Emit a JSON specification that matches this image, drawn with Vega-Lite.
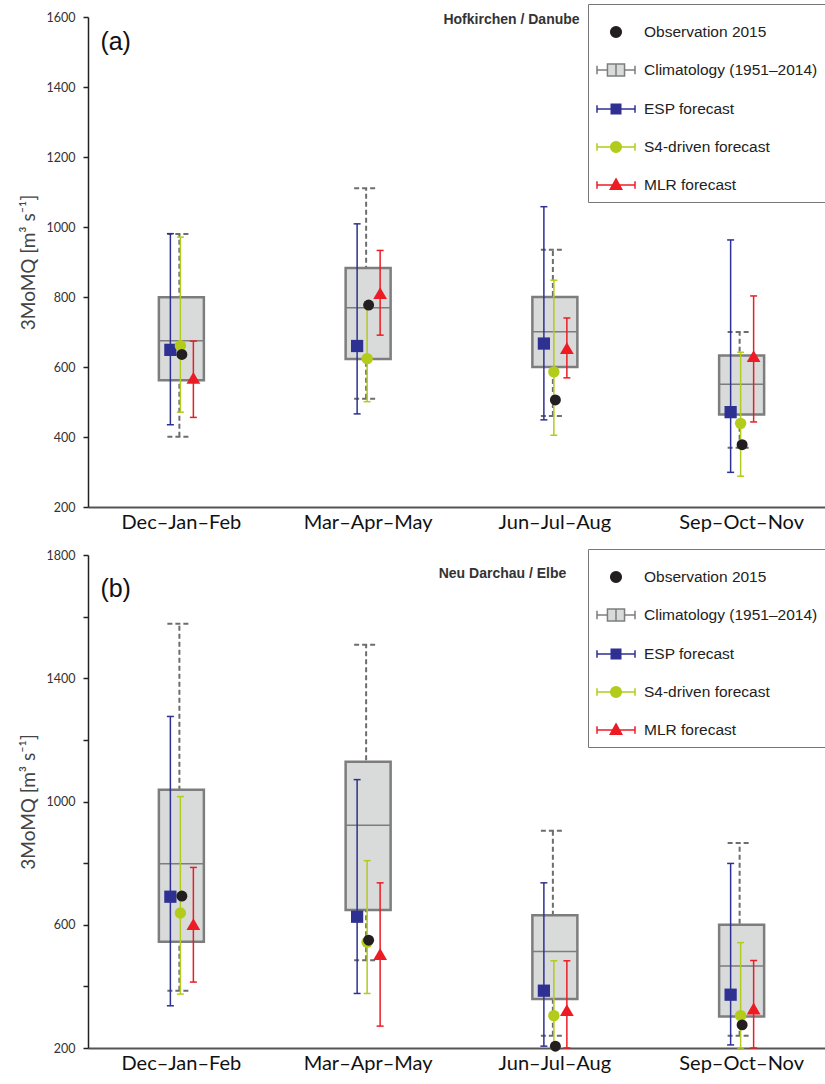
{
  "$schema": "https://vega.github.io/schema/vega-lite/v6.json",
  "padding": {"left": 19, "top": 3, "right": 0, "bottom": 0},
  "spacing": 48,
  "bounds": "flush",
  "datasets": {
    "clim": [
      {"panel": "a", "season": "Dec–Jan–Feb", "p5": 401, "p25": 562, "mean": 675, "p75": 799, "p95": 980},
      {"panel": "a", "season": "Mar–Apr–May", "p5": 509, "p25": 623, "mean": 769, "p75": 883, "p95": 1111},
      {"panel": "a", "season": "Jun–Jul–Aug", "p5": 460, "p25": 600, "mean": 701, "p75": 800, "p95": 935},
      {"panel": "a", "season": "Sep–Oct–Nov", "p5": 369, "p25": 464, "mean": 551, "p75": 633, "p95": 700},
      {"panel": "b", "season": "Dec–Jan–Feb", "p5": 386, "p25": 545, "mean": 798, "p75": 1038, "p95": 1577},
      {"panel": "b", "season": "Mar–Apr–May", "p5": 485, "p25": 648, "mean": 923, "p75": 1129, "p95": 1509},
      {"panel": "b", "season": "Jun–Jul–Aug", "p5": 240, "p25": 359, "mean": 513, "p75": 631, "p95": 905},
      {"panel": "b", "season": "Sep–Oct–Nov", "p5": 240, "p25": 302, "mean": 466, "p75": 600, "p95": 865}
    ],
    "fc": [
      {"panel": "a", "season": "Dec–Jan–Feb", "series": "ESP", "mean": 649, "lo": 435, "hi": 981},
      {"panel": "a", "season": "Dec–Jan–Feb", "series": "S4", "mean": 661, "lo": 471, "hi": 971},
      {"panel": "a", "season": "Dec–Jan–Feb", "series": "MLR", "mean": 569, "lo": 456, "hi": 674},
      {"panel": "a", "season": "Mar–Apr–May", "series": "ESP", "mean": 660, "lo": 466, "hi": 1009},
      {"panel": "a", "season": "Mar–Apr–May", "series": "S4", "mean": 624, "lo": 501, "hi": 778},
      {"panel": "a", "season": "Mar–Apr–May", "series": "MLR", "mean": 811, "lo": 691, "hi": 933},
      {"panel": "a", "season": "Jun–Jul–Aug", "series": "ESP", "mean": 667, "lo": 449, "hi": 1058},
      {"panel": "a", "season": "Jun–Jul–Aug", "series": "S4", "mean": 586, "lo": 405, "hi": 848},
      {"panel": "a", "season": "Jun–Jul–Aug", "series": "MLR", "mean": 654, "lo": 569, "hi": 740},
      {"panel": "a", "season": "Sep–Oct–Nov", "series": "ESP", "mean": 471, "lo": 299, "hi": 963},
      {"panel": "a", "season": "Sep–Oct–Nov", "series": "S4", "mean": 439, "lo": 288, "hi": 642},
      {"panel": "a", "season": "Sep–Oct–Nov", "series": "MLR", "mean": 631, "lo": 443, "hi": 803},
      {"panel": "b", "season": "Dec–Jan–Feb", "series": "ESP", "mean": 691, "lo": 337, "hi": 1276},
      {"panel": "b", "season": "Dec–Jan–Feb", "series": "S4", "mean": 638, "lo": 375, "hi": 1016},
      {"panel": "b", "season": "Dec–Jan–Feb", "series": "MLR", "mean": 602, "lo": 414, "hi": 786},
      {"panel": "b", "season": "Mar–Apr–May", "series": "ESP", "mean": 626, "lo": 377, "hi": 1071},
      {"panel": "b", "season": "Mar–Apr–May", "series": "S4", "mean": 543, "lo": 377, "hi": 808},
      {"panel": "b", "season": "Mar–Apr–May", "series": "MLR", "mean": 505, "lo": 271, "hi": 736},
      {"panel": "b", "season": "Jun–Jul–Aug", "series": "ESP", "mean": 386, "lo": 206, "hi": 736},
      {"panel": "b", "season": "Jun–Jul–Aug", "series": "S4", "mean": 305, "lo": 200, "hi": 483},
      {"panel": "b", "season": "Jun–Jul–Aug", "series": "MLR", "mean": 323, "lo": 200, "hi": 483},
      {"panel": "b", "season": "Sep–Oct–Nov", "series": "ESP", "mean": 373, "lo": 210, "hi": 799},
      {"panel": "b", "season": "Sep–Oct–Nov", "series": "S4", "mean": 305, "lo": 200, "hi": 542},
      {"panel": "b", "season": "Sep–Oct–Nov", "series": "MLR", "mean": 328, "lo": 200, "hi": 484}
    ],
    "obs": [
      {"panel": "a", "season": "Dec–Jan–Feb", "value": 636},
      {"panel": "a", "season": "Mar–Apr–May", "value": 777},
      {"panel": "a", "season": "Jun–Jul–Aug", "value": 506},
      {"panel": "a", "season": "Sep–Oct–Nov", "value": 378},
      {"panel": "b", "season": "Dec–Jan–Feb", "value": 693},
      {"panel": "b", "season": "Mar–Apr–May", "value": 550},
      {"panel": "b", "season": "Jun–Jul–Aug", "value": 206},
      {"panel": "b", "season": "Sep–Oct–Nov", "value": 275}
    ],
    "labels": [
      {"panel": "a", "label": "(a)"},
      {"panel": "b", "label": "(b)"}
    ],
    "legend": [
      {"series": "Observation 2015"}
    ]
  },
  "vconcat": [
    {
      "width": 747,
      "height": 490,
      "title": {"text": "Hofkirchen / Danube", "fontSize": 14, "font": "Liberation Sans", "fontWeight": "bold", "color": "#333", "offset": -23, "dx": 50, "anchor": "middle"},
      "encoding": {
        "x": {"field": "season", "type": "nominal", "sort": ["Dec–Jan–Feb", "Mar–Apr–May", "Jun–Jul–Aug", "Sep–Oct–Nov"],
          "scale": {"domain": ["Dec–Jan–Feb", "Mar–Apr–May", "Jun–Jul–Aug", "Sep–Oct–Nov"], "paddingInner": 0, "paddingOuter": 0},
          "axis": {"title": null, "ticks": false, "labelFontSize": 20, "labelFont": "Lato", "labelColor": "#111", "labelPadding": 5, "domainColor": "#555", "domainWidth": 2, "labelAngle": 0}}
      },
      "layer": [
        {
          "data": {"name": "clim"},
          "transform": [{"filter": "datum.panel == 'a'"}],
          "mark": {"type": "rule", "color": "#6d6d6d", "strokeWidth": 2, "strokeDash": [5, 3], "xOffset": -2},
          "encoding": {
            "y": {"field": "p5", "type": "quantitative", "scale": {"domain": [200, 1600], "nice": false, "zero": false},
              "axis": {"title": "3MoMQ [m³ s⁻¹]", "format": "d", "values": [200, 400, 600, 800, 1000, 1200, 1400, 1600], "tickSize": 5, "tickColor": "#222", "tickWidth": 1.5, "domainColor": "#222", "domainWidth": 1.5, "labelFontSize": 12.5, "labelColor": "#333", "labelPadding": 8, "titleFontSize": 19, "titleFontWeight": "normal", "titleColor": "#444", "titleFont": "Lato", "titlePadding": 8, "grid": false}},
            "y2": {"field": "p95"}
          }
        },
        {
          "data": {"name": "clim"},
          "transform": [{"filter": "datum.panel == 'a'"}, {"fold": ["p5", "p95"], "as": ["k", "v"]}],
          "mark": {"type": "rule", "color": "#6d6d6d", "strokeWidth": 2, "strokeDash": [5, 3], "xOffset": -14, "x2Offset": 10},
          "encoding": {
            "x2": {"field": "season"},
            "y": {"field": "v", "type": "quantitative"}
          }
        },
        {
          "data": {"name": "clim"},
          "transform": [{"filter": "datum.panel == 'a'"}],
          "mark": {"type": "bar", "width": 45, "fill": "#d9dbdb", "stroke": "#7d7d7d", "strokeWidth": 2.5},
          "encoding": {
            "y": {"field": "p25", "type": "quantitative"},
            "y2": {"field": "p75"}
          }
        },
        {
          "data": {"name": "clim"},
          "transform": [{"filter": "datum.panel == 'a'"}],
          "mark": {"type": "tick", "size": 45, "thickness": 1.5, "color": "#7d7d7d", "opacity": 1},
          "encoding": {"y": {"field": "mean", "type": "quantitative"}}
        },
        {
          "data": {"name": "fc"},
          "transform": [{"filter": "datum.panel == 'a' && datum.series == 'ESP'"}],
          "mark": {"type": "rule", "color": "#2e3192", "strokeWidth": 1.5, "xOffset": -11},
          "encoding": {"y": {"field": "lo", "type": "quantitative"}, "y2": {"field": "hi"}}
        },
        {
          "data": {"name": "fc"},
          "transform": [{"filter": "datum.panel == 'a' && datum.series == 'ESP'"}, {"fold": ["lo", "hi"], "as": ["k", "v"]}],
          "mark": {"type": "tick", "size": 7, "thickness": 1.5, "color": "#2e3192", "opacity": 1, "xOffset": -11},
          "encoding": {"y": {"field": "v", "type": "quantitative"}}
        },
        {
          "data": {"name": "fc"},
          "transform": [{"filter": "datum.panel == 'a' && datum.series == 'ESP'"}],
          "mark": {"type": "point", "shape": "square", "filled": true, "size": 150, "color": "#2e3192", "opacity": 1, "xOffset": -11},
          "encoding": {"y": {"field": "mean", "type": "quantitative"}}
        },
        {
          "data": {"name": "fc"},
          "transform": [{"filter": "datum.panel == 'a' && datum.series == 'S4'"}],
          "mark": {"type": "rule", "color": "#b3cb1b", "strokeWidth": 1.5, "xOffset": -1},
          "encoding": {"y": {"field": "lo", "type": "quantitative"}, "y2": {"field": "hi"}}
        },
        {
          "data": {"name": "fc"},
          "transform": [{"filter": "datum.panel == 'a' && datum.series == 'S4'"}, {"fold": ["lo", "hi"], "as": ["k", "v"]}],
          "mark": {"type": "tick", "size": 7, "thickness": 1.5, "color": "#b3cb1b", "opacity": 1, "xOffset": -1},
          "encoding": {"y": {"field": "v", "type": "quantitative"}}
        },
        {
          "data": {"name": "fc"},
          "transform": [{"filter": "datum.panel == 'a' && datum.series == 'S4'"}],
          "mark": {"type": "point", "shape": "circle", "filled": true, "size": 130, "color": "#b3cb1b", "opacity": 1, "xOffset": -1},
          "encoding": {"y": {"field": "mean", "type": "quantitative"}}
        },
        {
          "data": {"name": "obs"},
          "transform": [{"filter": "datum.panel == 'a'"}],
          "mark": {"type": "point", "shape": "circle", "filled": true, "size": 120, "color": "#231f20", "opacity": 1, "xOffset": 0.5},
          "encoding": {"y": {"field": "value", "type": "quantitative"}}
        },
        {
          "data": {"name": "fc"},
          "transform": [{"filter": "datum.panel == 'a' && datum.series == 'MLR'"}],
          "mark": {"type": "rule", "color": "#ed1c24", "strokeWidth": 1.5, "xOffset": 12},
          "encoding": {"y": {"field": "lo", "type": "quantitative"}, "y2": {"field": "hi"}}
        },
        {
          "data": {"name": "fc"},
          "transform": [{"filter": "datum.panel == 'a' && datum.series == 'MLR'"}, {"fold": ["lo", "hi"], "as": ["k", "v"]}],
          "mark": {"type": "tick", "size": 7, "thickness": 1.5, "color": "#ed1c24", "opacity": 1, "xOffset": 12},
          "encoding": {"y": {"field": "v", "type": "quantitative"}}
        },
        {
          "data": {"name": "fc"},
          "transform": [{"filter": "datum.panel == 'a' && datum.series == 'MLR'"}],
          "mark": {"type": "point", "shape": "triangle-up", "filled": true, "size": 190, "color": "#ed1c24", "opacity": 1, "xOffset": 12},
          "encoding": {"y": {"field": "mean", "type": "quantitative"}}
        },
        {
          "data": {"name": "labels"},
          "transform": [{"filter": "datum.panel == 'a'"}],
          "mark": {"type": "text", "align": "left", "baseline": "middle", "dx": -81, "fontSize": 25, "font": "Liberation Sans", "color": "#111"},
          "encoding": {"x": {"datum": "Dec–Jan–Feb"}, "y": {"datum": 1530}, "text": {"field": "label"}}
        },
        {
          "data": {"name": "legend"},
          "transform": [{"filter": "false"}],
          "mark": {"type": "point", "filled": true, "opacity": 1, "strokeWidth": 1.5},
          "encoding": {
            "fill": {"field": "series", "type": "nominal",
              "scale": {"domain": ["Observation 2015", "Climatology (1951–2014)", "ESP forecast", "S4-driven forecast", "MLR forecast"], "range": ["#231f20", "#d9dbdb", "#2e3192", "#b3cb1b", "#ed1c24"]},
              "legend": {"orient": "none", "legendX": 500, "legendY": -13, "title": null}},
            "stroke": {"field": "series", "type": "nominal",
              "scale": {"domain": ["Observation 2015", "Climatology (1951–2014)", "ESP forecast", "S4-driven forecast", "MLR forecast"], "range": ["#231f20", "#7d7d7d", "#2e3192", "#b3cb1b", "#ed1c24"]},
              "legend": {"orient": "none", "legendX": 500, "legendY": -13, "title": null}},
            "shape": {"field": "series", "type": "nominal",
              "scale": {"domain": ["Observation 2015", "Climatology (1951–2014)", "ESP forecast", "S4-driven forecast", "MLR forecast"],
                "range": [
                  "M-0.28,0A0.28,0.28 0 1,0 0.28,0A0.28,0.28 0 1,0 -0.28,0Z",
                  "M-1,0H-0.45M0.45,0H1M-1,-0.22V0.22M1,-0.22V0.22M-0.45,-0.32H0.45V0.32H-0.45ZM0,-0.32V0.32",
                  "M-1,0H1M-1,-0.2V0.2M1,-0.2V0.2M-0.25,-0.25H0.25V0.25H-0.25Z",
                  "M-1,0H1M-1,-0.2V0.2M1,-0.2V0.2M-0.28,0A0.28,0.28 0 1,0 0.28,0A0.28,0.28 0 1,0 -0.28,0Z",
                  "M-1,0H1M-1,-0.2V0.2M1,-0.2V0.2M0,-0.32L0.3,0.22H-0.3Z"
                ]},
              "legend": {"orient": "none", "legendX": 500, "legendY": -13, "title": null}}
          }
        }
      ]
    },
    {
      "width": 747,
      "height": 493,
      "title": {"text": "Neu Darchau / Elbe", "fontSize": 14, "font": "Liberation Sans", "fontWeight": "bold", "color": "#333", "offset": -32, "dx": 41, "anchor": "middle"},
      "encoding": {
        "x": {"field": "season", "type": "nominal", "sort": ["Dec–Jan–Feb", "Mar–Apr–May", "Jun–Jul–Aug", "Sep–Oct–Nov"],
          "scale": {"domain": ["Dec–Jan–Feb", "Mar–Apr–May", "Jun–Jul–Aug", "Sep–Oct–Nov"], "paddingInner": 0, "paddingOuter": 0},
          "axis": {"title": null, "ticks": false, "labelFontSize": 20, "labelFont": "Lato", "labelColor": "#111", "labelPadding": 5, "domainColor": "#555", "domainWidth": 2, "labelAngle": 0}}
      },
      "layer": [
        {
          "data": {"name": "clim"},
          "transform": [{"filter": "datum.panel == 'b'"}],
          "mark": {"type": "rule", "color": "#6d6d6d", "strokeWidth": 2, "strokeDash": [5, 3], "xOffset": -2},
          "encoding": {
            "y": {"field": "p5", "type": "quantitative", "scale": {"domain": [200, 1800], "nice": false, "zero": false},
              "axis": {"title": "3MoMQ [m³ s⁻¹]", "format": "d", "values": [200, 400, 600, 800, 1000, 1200, 1400, 1600, 1800], "labelExpr": "datum.value % 400 == 200 ? datum.label : ''", "tickSize": 5, "tickColor": "#222", "tickWidth": 1.5, "domainColor": "#222", "domainWidth": 1.5, "labelFontSize": 12.5, "labelColor": "#333", "labelPadding": 8, "titleFontSize": 19, "titleFontWeight": "normal", "titleColor": "#444", "titleFont": "Lato", "titlePadding": 8, "grid": false}},
            "y2": {"field": "p95"}
          }
        },
        {
          "data": {"name": "clim"},
          "transform": [{"filter": "datum.panel == 'b'"}, {"fold": ["p5", "p95"], "as": ["k", "v"]}],
          "mark": {"type": "rule", "color": "#6d6d6d", "strokeWidth": 2, "strokeDash": [5, 3], "xOffset": -14, "x2Offset": 10},
          "encoding": {
            "x2": {"field": "season"},
            "y": {"field": "v", "type": "quantitative"}
          }
        },
        {
          "data": {"name": "clim"},
          "transform": [{"filter": "datum.panel == 'b'"}],
          "mark": {"type": "bar", "width": 45, "fill": "#d9dbdb", "stroke": "#7d7d7d", "strokeWidth": 2.5},
          "encoding": {
            "y": {"field": "p25", "type": "quantitative"},
            "y2": {"field": "p75"}
          }
        },
        {
          "data": {"name": "clim"},
          "transform": [{"filter": "datum.panel == 'b'"}],
          "mark": {"type": "tick", "size": 45, "thickness": 1.5, "color": "#7d7d7d", "opacity": 1},
          "encoding": {"y": {"field": "mean", "type": "quantitative"}}
        },
        {
          "data": {"name": "fc"},
          "transform": [{"filter": "datum.panel == 'b' && datum.series == 'ESP'"}],
          "mark": {"type": "rule", "color": "#2e3192", "strokeWidth": 1.5, "xOffset": -11},
          "encoding": {"y": {"field": "lo", "type": "quantitative"}, "y2": {"field": "hi"}}
        },
        {
          "data": {"name": "fc"},
          "transform": [{"filter": "datum.panel == 'b' && datum.series == 'ESP'"}, {"fold": ["lo", "hi"], "as": ["k", "v"]}],
          "mark": {"type": "tick", "size": 7, "thickness": 1.5, "color": "#2e3192", "opacity": 1, "xOffset": -11},
          "encoding": {"y": {"field": "v", "type": "quantitative"}}
        },
        {
          "data": {"name": "fc"},
          "transform": [{"filter": "datum.panel == 'b' && datum.series == 'ESP'"}],
          "mark": {"type": "point", "shape": "square", "filled": true, "size": 150, "color": "#2e3192", "opacity": 1, "xOffset": -11},
          "encoding": {"y": {"field": "mean", "type": "quantitative"}}
        },
        {
          "data": {"name": "fc"},
          "transform": [{"filter": "datum.panel == 'b' && datum.series == 'S4'"}],
          "mark": {"type": "rule", "color": "#b3cb1b", "strokeWidth": 1.5, "xOffset": -1},
          "encoding": {"y": {"field": "lo", "type": "quantitative"}, "y2": {"field": "hi"}}
        },
        {
          "data": {"name": "fc"},
          "transform": [{"filter": "datum.panel == 'b' && datum.series == 'S4'"}, {"fold": ["lo", "hi"], "as": ["k", "v"]}],
          "mark": {"type": "tick", "size": 7, "thickness": 1.5, "color": "#b3cb1b", "opacity": 1, "xOffset": -1},
          "encoding": {"y": {"field": "v", "type": "quantitative"}}
        },
        {
          "data": {"name": "fc"},
          "transform": [{"filter": "datum.panel == 'b' && datum.series == 'S4'"}],
          "mark": {"type": "point", "shape": "circle", "filled": true, "size": 130, "color": "#b3cb1b", "opacity": 1, "xOffset": -1},
          "encoding": {"y": {"field": "mean", "type": "quantitative"}}
        },
        {
          "data": {"name": "obs"},
          "transform": [{"filter": "datum.panel == 'b'"}],
          "mark": {"type": "point", "shape": "circle", "filled": true, "size": 120, "color": "#231f20", "opacity": 1, "xOffset": 0.5},
          "encoding": {"y": {"field": "value", "type": "quantitative"}}
        },
        {
          "data": {"name": "fc"},
          "transform": [{"filter": "datum.panel == 'b' && datum.series == 'MLR'"}],
          "mark": {"type": "rule", "color": "#ed1c24", "strokeWidth": 1.5, "xOffset": 12},
          "encoding": {"y": {"field": "lo", "type": "quantitative"}, "y2": {"field": "hi"}}
        },
        {
          "data": {"name": "fc"},
          "transform": [{"filter": "datum.panel == 'b' && datum.series == 'MLR'"}, {"fold": ["lo", "hi"], "as": ["k", "v"]}],
          "mark": {"type": "tick", "size": 7, "thickness": 1.5, "color": "#ed1c24", "opacity": 1, "xOffset": 12},
          "encoding": {"y": {"field": "v", "type": "quantitative"}}
        },
        {
          "data": {"name": "fc"},
          "transform": [{"filter": "datum.panel == 'b' && datum.series == 'MLR'"}],
          "mark": {"type": "point", "shape": "triangle-up", "filled": true, "size": 190, "color": "#ed1c24", "opacity": 1, "xOffset": 12},
          "encoding": {"y": {"field": "mean", "type": "quantitative"}}
        },
        {
          "data": {"name": "labels"},
          "transform": [{"filter": "datum.panel == 'b'"}],
          "mark": {"type": "text", "align": "left", "baseline": "middle", "dx": -81, "fontSize": 25, "font": "Liberation Sans", "color": "#111"},
          "encoding": {"x": {"datum": "Dec–Jan–Feb"}, "y": {"datum": 1690}, "text": {"field": "label"}}
        },
        {
          "data": {"name": "legend"},
          "transform": [{"filter": "false"}],
          "mark": {"type": "point", "filled": true, "opacity": 1, "strokeWidth": 1.5},
          "encoding": {
            "fill": {"field": "series", "type": "nominal",
              "scale": {"domain": ["Observation 2015", "Climatology (1951–2014)", "ESP forecast", "S4-driven forecast", "MLR forecast"], "range": ["#231f20", "#d9dbdb", "#2e3192", "#b3cb1b", "#ed1c24"]},
              "legend": {"orient": "none", "legendX": 500, "legendY": -6, "title": null}},
            "stroke": {"field": "series", "type": "nominal",
              "scale": {"domain": ["Observation 2015", "Climatology (1951–2014)", "ESP forecast", "S4-driven forecast", "MLR forecast"], "range": ["#231f20", "#7d7d7d", "#2e3192", "#b3cb1b", "#ed1c24"]},
              "legend": {"orient": "none", "legendX": 500, "legendY": -6, "title": null}},
            "shape": {"field": "series", "type": "nominal",
              "scale": {"domain": ["Observation 2015", "Climatology (1951–2014)", "ESP forecast", "S4-driven forecast", "MLR forecast"],
                "range": [
                  "M-0.28,0A0.28,0.28 0 1,0 0.28,0A0.28,0.28 0 1,0 -0.28,0Z",
                  "M-1,0H-0.45M0.45,0H1M-1,-0.22V0.22M1,-0.22V0.22M-0.45,-0.32H0.45V0.32H-0.45ZM0,-0.32V0.32",
                  "M-1,0H1M-1,-0.2V0.2M1,-0.2V0.2M-0.25,-0.25H0.25V0.25H-0.25Z",
                  "M-1,0H1M-1,-0.2V0.2M1,-0.2V0.2M-0.28,0A0.28,0.28 0 1,0 0.28,0A0.28,0.28 0 1,0 -0.28,0Z",
                  "M-1,0H1M-1,-0.2V0.2M1,-0.2V0.2M0,-0.32L0.3,0.22H-0.3Z"
                ]},
              "legend": {"orient": "none", "legendX": 500, "legendY": -6, "title": null}}
          }
        }
      ]
    }
  ],
  "resolve": {
    "scale": {"y": "independent", "x": "independent", "fill": "independent", "stroke": "independent", "shape": "independent"},
    "legend": {"fill": "independent", "stroke": "independent", "shape": "independent"}
  },
  "config": {
    "view": {"stroke": null},
    "font": "Lato",
    "axis": {"grid": false},
    "legend": {"symbolSize": 1444, "symbolStrokeWidth": 1.5, "labelFont": "Liberation Sans", "labelFontSize": 15.5, "labelColor": "#222", "labelLimit": 300, "labelOffset": 8, "strokeColor": "#777", "fillColor": "white", "padding": 8, "rowPadding": 9, "symbolOpacity": 1}
  }
}
